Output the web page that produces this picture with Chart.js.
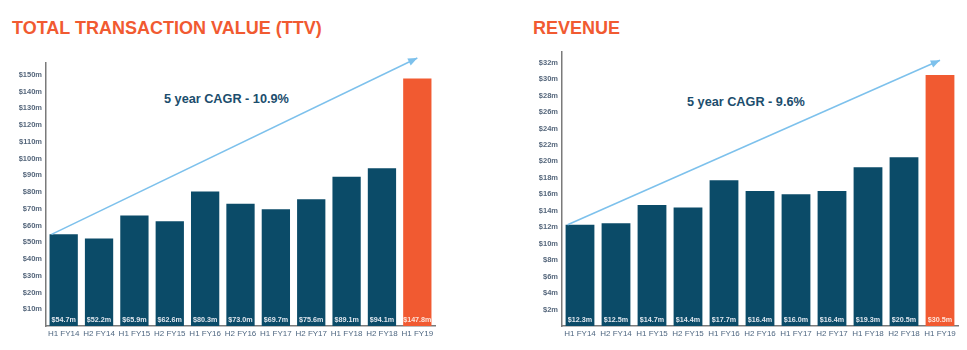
<!DOCTYPE html>
<html>
<head>
<meta charset="utf-8">
<script src="https://cdn.jsdelivr.net/npm/chart.js@4/dist/chart.umd.min.js"></script>
<style>
  body { margin: 0; background: #fff; font-family: "Liberation Sans", Arial, sans-serif; }
  .wrap { position: relative; width: 967px; height: 350px; overflow: hidden; }
  .title { position: absolute; top: 18px; font-weight: bold; font-size: 18px; color: #f15a31; line-height: 20px; }
  .cagr { position: absolute; font-weight: bold; font-size: 12.7px; color: #1b4d6d; }
  .box { position: absolute; top: 0; height: 350px; }
</style>
</head>
<body>
<div class="wrap">
  <div class="title" style="left:12px">TOTAL TRANSACTION VALUE (TTV)</div>
  <div class="title" style="left:533px">REVENUE</div>
  <div class="cagr" style="left:164px; top:92px">5 year CAGR - 10.9%</div>
  <div class="cagr" style="left:687px; top:95px">5 year CAGR - 9.6%</div>
  <div class="box" style="left:0; width:480px"><canvas id="ttvChart"></canvas></div>
  <div class="box" style="left:480px; width:487px"><canvas id="revChart"></canvas></div>
</div>
<script>
// Datos
const periodos = ['H1 FY14', 'H2 FY14', 'H1 FY15', 'H2 FY15', 'H1 FY16', 'H2 FY16', 'H1 FY17', 'H2 FY17', 'H1 FY18', 'H2 FY18', 'H1 FY19'];
const ttv = [54.7, 52.2, 65.9, 62.6, 80.3, 73.0, 69.7, 75.6, 89.1, 94.1, 147.8];
const revenue = [12.3, 12.5, 14.7, 14.4, 17.7, 16.4, 16.0, 16.4, 19.3, 20.5, 30.5];
const ttvTicks = [10, 20, 30, 40, 50, 60, 70, 80, 90, 100, 110, 120, 130, 140, 150];
const revTicks = [2, 4, 6, 8, 10, 12, 14, 16, 18, 20, 22, 24, 26, 28, 30, 32];

const azul = '#0b4b68';
const naranja = '#f15a31';

// Etiquetas dentro de las barras y flecha CAGR
const etiquetasPlugin = {
    id: 'etiquetas',
    afterDatasetsDraw(chart) {
        const ctx = chart.ctx;
        const meta = chart.getDatasetMeta(0);
        const data = chart.data.datasets[0].data;
        ctx.save();
        ctx.font = 'bold 7.2px "Liberation Sans", Arial, sans-serif';
        ctx.textAlign = 'center';
        ctx.textBaseline = 'middle';
        meta.data.forEach((bar, i) => {
            ctx.fillStyle = i === data.length - 1 ? '#fde3d9' : '#dfe6ee';
            ctx.fillText('$' + data[i].toFixed(1) + 'm', bar.x, chart.chartArea.bottom - 6);
        });
        // flecha
        const opts = chart.options.plugins.etiquetas;
        const first = meta.data[0];
        const last = meta.data[meta.data.length - 1];
        const x1 = first.x - first.width / 2 + 2;
        const y1 = first.y;
        const x2 = last.x;
        const y2 = chart.scales.y.getPixelForValue(opts.arrowEnd);
        ctx.strokeStyle = '#7dc1ec';
        ctx.fillStyle = '#7dc1ec';
        ctx.lineWidth = 1.5;
        ctx.beginPath();
        ctx.moveTo(x1, y1);
        ctx.lineTo(x2, y2);
        ctx.stroke();
        const ang = Math.atan2(y2 - y1, x2 - x1);
        ctx.beginPath();
        ctx.moveTo(x2, y2);
        ctx.lineTo(x2 - 10 * Math.cos(ang - 0.4), y2 - 10 * Math.sin(ang - 0.4));
        ctx.lineTo(x2 - 10 * Math.cos(ang + 0.4), y2 - 10 * Math.sin(ang + 0.4));
        ctx.closePath();
        ctx.fill();
        ctx.restore();
    }
};

// Función para crear cada gráfico
function crearGrafico(id, valores, ticks, max, arrowEnd, yWidth, padding) {
    return new Chart(document.getElementById(id), {
        type: 'bar',
        data: {
            labels: periodos,
            datasets: [{
                data: valores,
                backgroundColor: valores.map((v, i) => i === valores.length - 1 ? naranja : azul),
                barPercentage: 0.8,
                categoryPercentage: 1.0
            }]
        },
        options: {
            responsive: true,
            maintainAspectRatio: false,
            animation: false,
            layout: { padding: padding },
            plugins: {
                legend: { display: false },
                tooltip: { enabled: false },
                etiquetas: { arrowEnd: arrowEnd }
            },
            scales: {
                x: {
                    grid: { display: false, drawTicks: false, tickLength: 0 },
                    border: { display: true, color: '#7a7a7a', width: 1.5 },
                    ticks: {
                        color: '#4f6781',
                        font: { size: 8, family: '"Liberation Sans", Arial, sans-serif' },
                        padding: 3,
                        maxRotation: 0,
                        autoSkip: false
                    },
                    afterFit(scale) { scale.height = 24; }
                },
                y: {
                    min: 0,
                    max: max,
                    grid: { display: false, drawTicks: false, tickLength: 0 },
                    border: { display: true, color: '#7a7a7a', width: 1.5 },
                    afterBuildTicks(scale) { scale.ticks = ticks.map(v => ({ value: v })); },
                    ticks: {
                        color: '#56677c',
                        font: { size: 7.5, weight: 'bold', family: '"Liberation Sans", Arial, sans-serif' },
                        padding: 4,
                        callback: v => '$' + v + 'm'
                    },
                    afterFit(scale) { scale.width = yWidth; }
                }
            }
        },
        plugins: [etiquetasPlugin]
    });
}

crearGrafico('ttvChart', ttv, ttvTicks, 157, 160, 46, { top: 63, right: 45, left: 0, bottom: 0 });
crearGrafico('revChart', revenue, revTicks, 33.3, 32.3, 82, { top: 52, right: 9, left: 0, bottom: 0 });
</script>
</body>
</html>
